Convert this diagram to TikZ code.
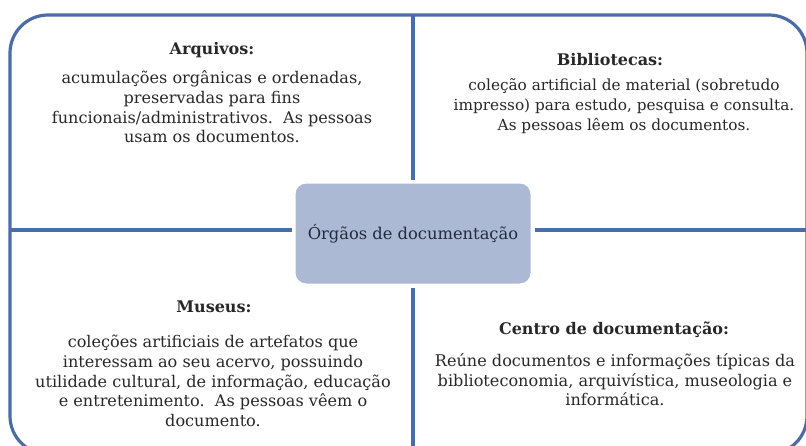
\documentclass[tikz,border=0pt]{standalone}
\usepackage{fontspec}
\setmainfont{DejaVu Serif}
\definecolor{edgeblue}{RGB}{76,108,166}
\definecolor{hubfill}{RGB}{172,185,212}
\definecolor{txt}{RGB}{40,40,40}
\definecolor{hubtxt}{RGB}{35,42,60}
\tikzset{
  frame/.style={draw=edgeblue, line width=3.2pt},
  hubbox/.style={draw=white, line width=3pt, fill=hubfill, rounded corners=12pt,
    minimum width=238pt, minimum height=103pt, text=hubtxt,
    font=\fontsize{16.3}{19}\selectfont},
  titletext/.style={text=txt, font=\fontsize{16}{19}\selectfont\bfseries, inner sep=0pt},
  bodytext/.style={text=txt, align=center, font=\fontsize{16.1}{19.6}\selectfont, inner sep=0pt},
  narrowbody/.style={bodytext, font=\fontsize{15.3}{20}\selectfont}
}
\begin{document}
\begin{tikzpicture}[x=1pt,y=-1pt,line join=round]
\useasboundingbox (0,0) rectangle (806,445);
\clip (0,0) rectangle (806,445);
\fill[white] (0,0) rectangle (806,445);
% outer frame
\draw[frame, rounded corners=38pt] (10,15) rectangle (807,454);
% centre
\node[hubbox] (hub) at (413,233.5) {Órgãos de documentação};
% dividers
\coordinate (vtop) at (413,15);
\coordinate (vbot) at (413,454);
\coordinate (hleft) at (10,230);
\coordinate (hright) at (807,230);
\draw[frame, shorten >=1pt] (vtop) -- (hub.north -| vtop);
\draw[frame, shorten >=1pt] (vbot) -- (hub.south -| vbot);
\draw[frame, shorten >=1pt] (hleft) -- (hub.west |- hleft);
\draw[frame, shorten >=1pt] (hright) -- (hub.east |- hright);
% quadrant texts
\node[titletext] (arqT) at (212,50) {Arquivos:};
\node[bodytext] (arqB) at (212,107) {acumulações orgânicas e ordenadas,\\preservadas para fins\\funcionais/administrativos.\ \ As pessoas\\usam os documentos.};
\node[titletext] (bibT) at (610,60) {Bibliotecas:};
\node[narrowbody] (bibB) at (624,106) {coleção artificial de material (sobretudo\\impresso) para estudo, pesquisa e consulta.\\As pessoas lêem os documentos.};
\node[titletext] (musT) at (214,307) {Museus:};
\node[bodytext] (musB) at (213,381) {coleções artificiais de artefatos que\\interessam ao seu acervo, possuindo\\utilidade cultural, de informação, educação\\e entretenimento.\ \ As pessoas vêem o\\documento.};
\node[titletext] (cenT) at (614,330) {Centro de documentação:};
\node[bodytext] (cenB) at (615,380) {Reúne documentos e informações típicas da\\biblioteconomia, arquivística, museologia e\\informática.};
\end{tikzpicture}
\end{document}
